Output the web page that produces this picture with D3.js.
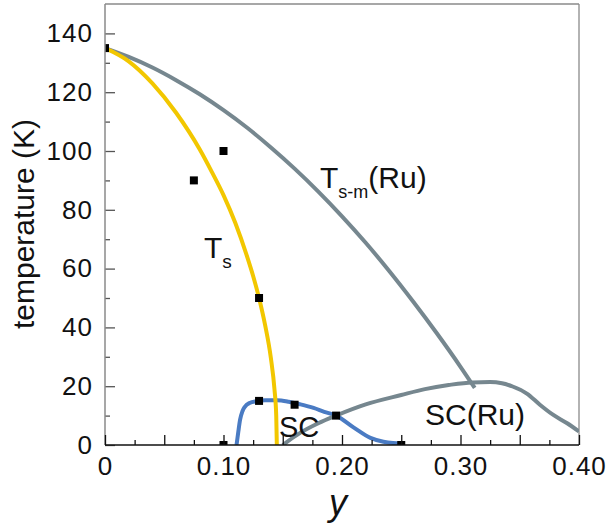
<!DOCTYPE html>
<html>
<head>
<meta charset="utf-8">
<script src="https://cdn.jsdelivr.net/npm/d3@7"></script>
<style>
  body { margin: 0; background: #fff; }
  svg { display: block; }
  text { font-family: "Liberation Sans", Arial, Helvetica, sans-serif; fill: #111; }
</style>
</head>
<body>
<svg id="chart" width="607" height="530"></svg>
<script>
// Phase diagram: temperature (K) versus doping y.
// Each curve is a list of [y, T] pairs.
const tsCurve = [
  [0, 135], [0.02, 130.5], [0.04, 123], [0.06, 113], [0.08, 100.5], [0.09, 93],
  [0.10, 85], [0.11, 75.5], [0.12, 64], [0.125, 57.5], [0.13, 50], [0.135, 41],
  [0.14, 29.5], [0.143, 19], [0.1445, 10], [0.145, 0]
];
const tsmRuCurve = [
  [0, 135], [0.02, 132], [0.04, 128.4], [0.06, 124.1], [0.08, 119.3], [0.10, 113.9],
  [0.12, 107.9], [0.14, 101.2], [0.16, 94], [0.18, 86.2], [0.20, 77.8], [0.22, 68.8],
  [0.24, 59.1], [0.26, 48.8], [0.28, 38], [0.30, 26.6], [0.312, 19.4]
];
const scRuCurve = [
  [0.150, 0], [0.165, 4.2], [0.18, 7.4], [0.195, 10], [0.22, 13.8], [0.25, 17],
  [0.27, 19], [0.29, 20.4], [0.31, 21.3], [0.325, 21.4], [0.335, 21], [0.344, 19.9],
  [0.356, 17.5], [0.367, 13.7], [0.378, 10.3], [0.39, 7.4], [0.40, 4.6]
];
const scCurve = [
  [0.111, 0], [0.1125, 4.5], [0.114, 8.6], [0.116, 11.5], [0.118, 13], [0.122, 14.3],
  [0.128, 14.9], [0.135, 15.2], [0.145, 15.2], [0.155, 14.7], [0.165, 13.8],
  [0.176, 12.6], [0.185, 11.3], [0.195, 10], [0.21, 5.9], [0.224, 2.4],
  [0.235, 1.1], [0.243, 0.7], [0.25, 0.6]
];
// Measured points
const measured = [
  [0, 135], [0.075, 90], [0.10, 100], [0.13, 50], [0.13, 15], [0.10, 0],
  [0.16, 13.7], [0.195, 10], [0.25, 0]
];

// Axis ticks
const xLabelTicks = [0, 0.10, 0.20, 0.30, 0.40];
const xMajorTicks = [0, 0.05, 0.10, 0.15, 0.20, 0.25, 0.30, 0.35, 0.40];
const xMinorTicks = [0.025, 0.075, 0.125, 0.175, 0.225, 0.275, 0.325, 0.375];
const yMajorTicks = [0, 20, 40, 60, 80, 100, 120, 140];
const yMinorTicks = [10, 30, 50, 70, 90, 110, 130];

const colors = { ts: "#f2c700", ru: "#76878f", sc: "#4a7bc3" };

const margin = { left: 105, top: 4, right: 28, bottom: 85 };
const W = 607, H = 530;
const iw = W - margin.left - margin.right;   // 474
const ih = H - margin.top - margin.bottom;   // 441

const svg = d3.select("#chart");
const g = svg.append("g").attr("transform", `translate(${margin.left},${margin.top})`);

const x = d3.scaleLinear().domain([0, 0.40]).range([0, iw]);
const y = d3.scaleLinear().domain([0, 150]).range([ih, 0]);

svg.append("defs").append("clipPath").attr("id", "plotClip")
  .append("rect").attr("x", 0).attr("y", 0).attr("width", iw).attr("height", ih);

// Frame (top and right)
g.append("line").attr("x1", 0).attr("x2", iw).attr("y1", 0).attr("y2", 0)
  .attr("stroke", "#8a8a8a").attr("stroke-width", 1.3);
g.append("line").attr("x1", iw).attr("x2", iw).attr("y1", 0).attr("y2", ih)
  .attr("stroke", "#8a8a8a").attr("stroke-width", 1.3);

// Curves
const line = d3.line().x(d => x(d[0])).y(d => y(d[1])).curve(d3.curveMonotoneX);
const plot = g.append("g").attr("clip-path", "url(#plotClip)");

function drawCurve(data, color) {
  plot.append("path").datum(data)
    .attr("d", line)
    .attr("fill", "none")
    .attr("stroke", color)
    .attr("stroke-width", 4)
    .attr("stroke-linecap", "butt");
}
drawCurve(scCurve, colors.sc);
drawCurve(scRuCurve, colors.ru);
drawCurve(tsmRuCurve, colors.ru);
drawCurve(tsCurve, colors.ts);

// Square markers
plot.selectAll("rect.pt").data(measured).join("rect")
  .attr("class", "pt")
  .attr("x", d => x(d[0]) - 4)
  .attr("y", d => y(d[1]) - 4)
  .attr("width", 8).attr("height", 8)
  .attr("fill", "#000");

// Y axis
const yAxisMinor = d3.axisLeft(y).tickValues(yMinorTicks).tickSize(-5).tickFormat("");
const yAxisMajor = d3.axisLeft(y).tickValues(yMajorTicks).tickSize(-10).tickPadding(12)
  .tickFormat(d3.format("d"));
const gyMin = g.append("g").call(yAxisMinor);
const gy = g.append("g").call(yAxisMajor);
[gyMin, gy].forEach(a => {
  a.select(".domain").remove();
  a.selectAll(".tick line").attr("stroke", "#555").attr("stroke-width", 1.3);
});
gy.selectAll(".tick text")
  .attr("font-size", 26).attr("letter-spacing", 1).attr("fill", "#111")
  .attr("font-family", "'Liberation Sans', Arial, sans-serif");
g.append("line").attr("x1", 0).attr("x2", 0).attr("y1", 0).attr("y2", ih)
  .attr("stroke", "#8a8a8a").attr("stroke-width", 1.5);

// X axis
const gx = g.append("g").attr("transform", `translate(0,${ih})`);
const xAxisMinor = d3.axisBottom(x).tickValues(xMinorTicks).tickSize(-5).tickFormat("");
const xAxisMajor = d3.axisBottom(x).tickValues(xMajorTicks).tickSize(-10).tickFormat("");
const xAxisLabels = d3.axisBottom(x).tickValues(xLabelTicks).tickSize(0).tickPadding(12)
  .tickFormat(d => d === 0 ? "0" : d3.format(".2f")(d));
const gxMin = gx.append("g").call(xAxisMinor);
const gxMaj = gx.append("g").call(xAxisMajor);
const gxLab = gx.append("g").call(xAxisLabels);
[gxMin, gxMaj, gxLab].forEach(a => a.select(".domain").remove());
[gxMin, gxMaj].forEach(a => a.selectAll(".tick line").attr("stroke", "#111").attr("stroke-width", 1.3));
gxLab.selectAll(".tick text")
  .attr("font-size", 26).attr("letter-spacing", 1).attr("fill", "#111")
  .attr("font-family", "'Liberation Sans', Arial, sans-serif");
gx.append("line").attr("x1", 0).attr("x2", iw).attr("y1", 0).attr("y2", 0)
  .attr("stroke", "#111").attr("stroke-width", 1.5);

// Axis titles
svg.append("text")
  .attr("transform", `translate(34,224) rotate(-90)`)
  .attr("text-anchor", "middle")
  .attr("font-size", 30)
  .text("temperature (K)");
svg.append("text")
  .attr("x", 338).attr("y", 515)
  .attr("text-anchor", "middle")
  .attr("font-size", 36)
  .attr("font-style", "italic")
  .text("y");

// Curve annotations
const tsLabel = svg.append("text").attr("x", 204).attr("y", 258).attr("font-size", 30);
tsLabel.append("tspan").text("T");
tsLabel.append("tspan").attr("font-size", 19).attr("dy", 10).text("s");

const tsmLabel = svg.append("text").attr("x", 320).attr("y", 188).attr("font-size", 30);
tsmLabel.append("tspan").text("T");
tsmLabel.append("tspan").attr("font-size", 18).attr("dy", 10).text("s-m");
tsmLabel.append("tspan").attr("dy", -10).text("(Ru)");

svg.append("text").attr("x", 279).attr("y", 437).attr("font-size", 29).text("SC");
svg.append("text").attr("x", 425).attr("y", 425).attr("font-size", 30).text("SC(Ru)");
</script>
</body>
</html>
